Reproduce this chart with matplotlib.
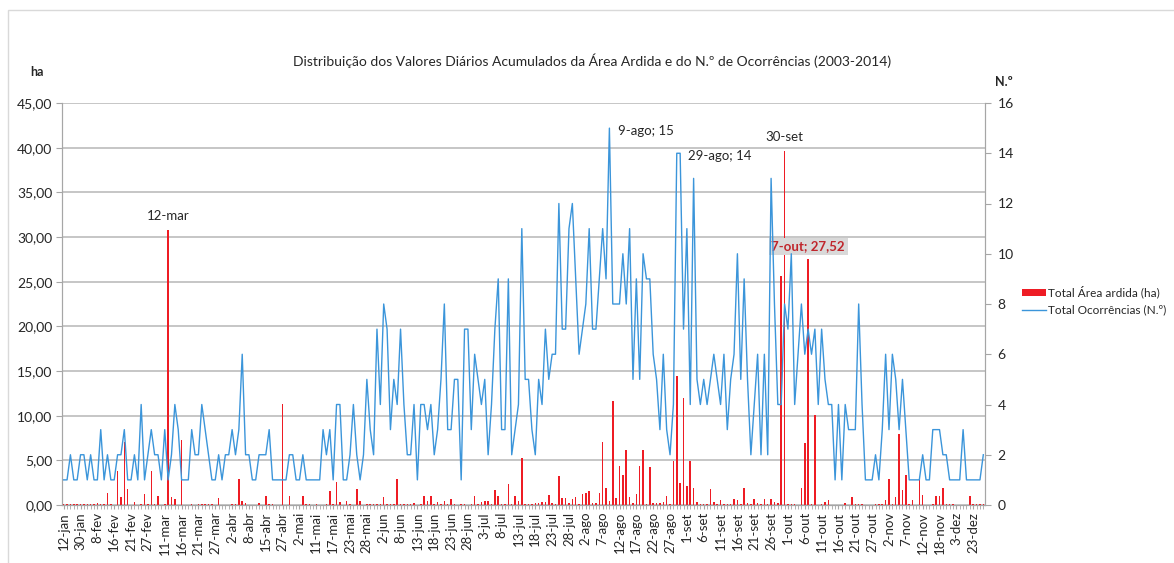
import matplotlib
matplotlib.use('Agg')
import matplotlib.pyplot as plt
from matplotlib.ticker import MultipleLocator, FuncFormatter
from matplotlib.patches import Patch, Rectangle
from matplotlib.lines import Line2D
import numpy as np

# ---------------- data ----------------
tick_labels = ['12-jan', '30-jan', '8-fev', '16-fev', '21-fev', '27-fev', '11-mar', '16-mar',
               '21-mar', '27-mar', '2-abr', '8-abr', '15-abr', '27-abr', '2-mai', '11-mai',
               '17-mai', '23-mai', '28-mai', '2-jun', '8-jun', '13-jun', '18-jun', '23-jun',
               '28-jun', '3-jul', '8-jul', '13-jul', '18-jul', '23-jul', '28-jul', '2-ago',
               '7-ago', '12-ago', '17-ago', '22-ago', '27-ago', '1-set', '6-set', '11-set',
               '16-set', '21-set', '26-set', '1-out', '6-out', '11-out', '16-out', '21-out',
               '27-out', '2-nov', '7-nov', '12-nov', '18-nov', '3-dez', '23-dez']

occurrences = [
    1, 1, 2, 1, 1, 2, 2, 1, 2, 1,
    1, 3, 1, 2, 1, 1, 2, 2, 3, 1,
    1, 2, 1, 4, 1, 2, 3, 2, 2, 1,
    3, 1, 2, 4, 3, 1, 1, 1, 3, 2,
    2, 4, 3, 2, 1, 1, 2, 1, 2, 2,
    3, 2, 3, 6, 2, 2, 1, 1, 2, 2,
    2, 3, 1, 1, 1, 1, 1, 2, 2, 1,
    1, 2, 1, 1, 1, 1, 1, 3, 2, 3,
    1, 4, 4, 1, 1, 2, 4, 2, 1, 2,
    5, 3, 2, 7, 4, 8, 7, 3, 5, 4,
    7, 4, 2, 2, 4, 1, 4, 4, 3, 4,
    2, 3, 5, 8, 3, 3, 5, 5, 1, 7,
    7, 3, 6, 5, 4, 5, 2, 4, 7, 9,
    3, 3, 9, 2, 3, 4, 11, 5, 5, 3,
    2, 5, 4, 7, 5, 6, 6, 12, 7, 7,
    11, 12, 9, 6, 7, 8, 11, 7, 7, 9,
    11, 9, 15, 8, 8, 8, 10, 8, 11, 5,
    9, 5, 10, 9, 9, 6, 5, 3, 6, 3,
    2, 4, 14, 14, 7, 11, 4, 13, 5, 4,
    5, 4, 5, 6, 5, 4, 6, 3, 5, 6,
    10, 5, 9, 5, 2, 4, 6, 2, 6, 2,
    13, 8, 4, 4, 8, 7, 10, 4, 6, 8,
    6, 7, 6, 7, 4, 7, 5, 4, 4, 1,
    4, 1, 4, 3, 3, 3, 8, 4, 1, 1,
    1, 2, 1, 3, 6, 3, 6, 5, 3, 5,
    3, 1, 1, 1, 1, 2, 1, 1, 3, 3,
    3, 2, 2, 1, 1, 1, 1, 3, 1, 1,
    1, 1, 1, 2]

area_ha = [
    0.1, 0.1, 0.1, 0.1, 0.1, 0.1, 0.1, 0.1, 0.1, 0.1,
    0.25, 0.1, 0.1, 1.3, 0.1, 0.05, 3.8, 0.9, 7.0, 1.8,
    0.05, 0.3, 0.05, 0.1, 1.2, 0.1, 3.8, 0.1, 1.0, 0.05,
    0.1, 30.8, 0.85, 0.65, 0.05, 7.3, 0.05, 0.05, 0.1, 0.05,
    0.1, 0.1, 0.15, 0.1, 0.1, 0.05, 0.75, 0.05, 0.05, 0.05,
    0.1, 0.1, 2.9, 0.45, 0.2, 0.0, 0.0, 0.05, 0.2, 0.0,
    1.05, 0.15, 0.15, 0.0, 0.0, 11.3, 0.0, 1.05, 0.0, 0.0,
    0.05, 1.05, 0.15, 0.15, 0.0, 0.1, 0.0, 0.05, 0.1, 1.6,
    0.15, 2.6, 0.3, 0.05, 0.5, 0.15, 0.05, 1.8, 0.5, 0.05,
    0.1, 0.1, 0.1, 0.1, 0.1, 0.9, 0.1, 0.1, 0.1, 2.9,
    0.1, 0.1, 0.1, 0.1, 0.2, 0.05, 0.1, 1.0, 0.5, 1.0,
    0.1, 0.3, 0.1, 0.4, 0.1, 0.7, 0.1, 0.05, 0.1, 0.1,
    0.05, 0.1, 1.0, 0.1, 0.3, 0.45, 0.45, 0.1, 1.7, 1.0,
    0.1, 0.1, 2.4, 0.1, 1.0, 0.4, 5.3, 0.1, 0.1, 0.1,
    0.2, 0.2, 0.3, 0.3, 1.1, 0.2, 0.1, 3.2, 0.8, 0.75,
    0.25, 0.7, 0.9, 0.1, 1.2, 1.3, 1.6, 0.25, 0.25, 1.3,
    7.0, 1.9, 0.4, 11.6, 0.75, 4.4, 3.4, 6.2, 0.9, 0.2,
    1.2, 4.4, 6.2, 0.1, 4.3, 0.2, 0.2, 0.2, 0.3, 1.05,
    0.15, 4.9, 14.4, 2.5, 12.0, 2.1, 4.9, 1.9, 0.3, 0.1,
    0.1, 0.1, 1.8, 0.3, 0.1, 0.55, 0.1, 0.1, 0.1, 0.7,
    0.55, 0.1, 1.9, 0.2, 0.1, 0.7, 0.2, 0.1, 0.7, 0.1,
    0.7, 0.3, 0.2, 25.6, 39.6, 0.1, 0.1, 0.1, 0.05, 1.95,
    6.9, 27.52, 0.1, 10.1, 0.05, 0.1, 0.35, 0.6, 0.05, 0.05,
    0.05, 0.05, 0.2, 0.05, 0.85, 0.1, 0.1, 0.1, 0.05, 0.0,
    0.05, 0.1, 0.1, 0.1, 0.55, 2.9, 0.1, 0.9, 7.9, 1.7,
    3.4, 0.1, 0.55, 0.0, 2.8, 1.1, 0.05, 0.0, 0.1, 1.05,
    1.05, 1.9, 0.15, 0.1, 0.1, 0.05, 0.0, 0.05, 0.05, 1.05,
    0.1, 0.1, 0.1, 0.1]

title = 'Distribuição dos Valores Diários Acumulados da Área Ardida e do N.º de Ocorrências (2003-2014)'
series_names = ['Total Área ardida (ha)', 'Total Ocorrências (N.º)']
# annotated categories: (text, category index)
area_notes = [('12-mar', 31), ('30-set', 214)]
occ_notes = [('9-ago; 15', 162), ('29-ago; 14', 183)]
boxed_note = ('7-out; 27,52', 221)

# ---------------- style ----------------
plt.rcParams['font.family'] = ['Lato', 'DejaVu Sans']
RED = '#ee1c24'
BLUE = '#3b95da'
GRID = '#c6c6c6'
AXC = '#a6a6a6'
TXT = '#262626'

W, H = 1174, 563
fig = plt.figure(figsize=(W / 100, H / 100), dpi=100)
fig.patch.set_facecolor('white')
# light outer frame of the chart object
fig.add_artist(Rectangle((8 / W, -0.05), 1.2, (H - 10) / H + 0.05, transform=fig.transFigure,
                         fill=False, edgecolor='#d9d9d9', lw=1.0))

ax = fig.add_axes([62 / W, 1 - 505 / H, 923 / W, 402 / H])
x = np.arange(len(area_ha))
ax.bar(x, area_ha, width=0.45, color=RED, zorder=3)
ax.set_xlim(-0.5, len(x) - 0.5)
ax.set_ylim(0, 45)
ax.yaxis.set_major_locator(MultipleLocator(5))
ax.yaxis.set_major_formatter(FuncFormatter(lambda v, p: f'{v:.2f}'.replace('.', ',')))
ax.grid(axis='y', color=GRID, lw=1.4, zorder=0)
ax.set_axisbelow(True)
ax.set_xticks(x[::5])
ax.set_xticklabels(tick_labels, rotation=90)
ax.set_xticks(x, minor=True)
ax.tick_params(axis='x', which='both', length=3, color=AXC, labelsize=9.5, labelcolor=TXT, pad=2)
ax.tick_params(axis='y', length=4, color=AXC, labelsize=10, labelcolor=TXT, pad=3)
ax.spines['top'].set_visible(False)
for s in ['left', 'bottom', 'right']:
    ax.spines[s].set_color(AXC)

ax2 = ax.twinx()
ax2.plot(x, occurrences, color=BLUE, lw=1.0, zorder=4)
ax2.set_ylim(0, 16)
ax2.yaxis.set_major_locator(MultipleLocator(2))
ax2.tick_params(axis='y', length=4, color=AXC, labelsize=10, labelcolor=TXT, pad=5)
ax2.spines['top'].set_visible(False)
for s in ['left', 'bottom', 'right']:
    ax2.spines[s].set_color(AXC)

# axis titles
fig.text(37 / W, 1 - 72 / H, 'ha', fontsize=9, fontweight='bold', ha='center', va='center', color=TXT)
fig.text(1004 / W, 1 - 82 / H, 'N.º', fontsize=9, fontweight='bold', ha='center', va='center', color=TXT)
fig.text(592 / W, 1 - 61 / H, title, fontsize=10, ha='center', va='center', color=TXT)

# annotations
for txt, i in area_notes:
    ax.annotate(txt, xy=(i, area_ha[i]), xytext=(0, 6), textcoords='offset points',
                ha='center', va='bottom', fontsize=9.5, color=TXT)
for txt, i in occ_notes:
    ax2.annotate(txt, xy=(i, occurrences[i]), xytext=(6, -2), textcoords='offset points',
                 ha='left', va='center', fontsize=9.5, color=TXT)
txt, i = boxed_note
ax.annotate(txt, xy=(i, area_ha[i]), xytext=(0, 5), textcoords='offset points',
            ha='center', va='bottom', fontsize=9.5, fontweight='bold', color='#c0262c',
            bbox=dict(boxstyle='square,pad=0.2', facecolor='#d9d9d9', edgecolor='none'))

# legend
handles = [Patch(facecolor=RED, edgecolor='none'), Line2D([0], [0], color=BLUE, lw=1.0)]
fig.legend(handles, series_names, loc='upper left', bbox_to_anchor=(1022 / W, 1 - 286 / H),
           frameon=False, fontsize=8.5, handlelength=2.0, handleheight=0.6, handletextpad=0.2,
           labelspacing=0.5, borderpad=0, borderaxespad=0, labelcolor=TXT)

fig.savefig('out.png', dpi=100)
